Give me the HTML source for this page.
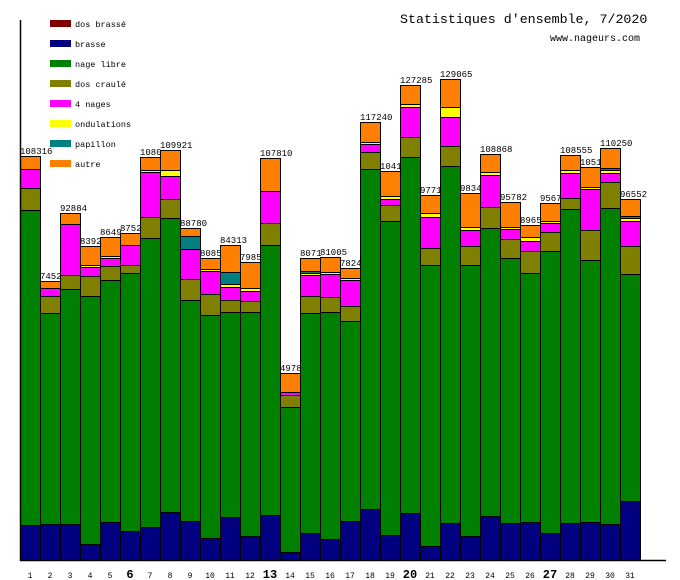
<!DOCTYPE html>
<html><head><meta charset="utf-8"><style>
html,body{margin:0;padding:0;background:#fff;}
svg{display:block;}
text{font-family:"Liberation Mono",monospace;fill:#000;}
</style></head><body>
<svg id="s" width="680" height="580" xmlns="http://www.w3.org/2000/svg">
<text x="400" y="23" font-size="13.3">Statistiques d'ensemble, 7/2020</text>
<text x="550" y="41" font-size="10">www.nageurs.com</text>
</svg>
<script>
var N="#000080",G="#008000",O="#808000",M="#ff00ff",Y="#ffff00",T="#008080",R="#ff8000";
// each bar: [label, [y_top, color]...] segments top-down, last segment ends at 560
var bars=[
["108316",[[156,R],[169,M],[188,O],[210,G],[525,N]]],
["7452",[[281,R],[288,M],[296,O],[313,G],[524,N]]],
["92884",[[213,R],[224,M],[275,O],[289,G],[524,N]]],
["8392",[[246,R],[265,Y],[267,M],[276,O],[296,G],[544,N]]],
["8649",[[237,R],[256,Y],[258,M],[266,O],[280,G],[522,N]]],
["8752",[[233,R],[245,M],[265,O],[273,G],[531,N]]],
["1080",[[157,R],[170,Y],[172,M],[217,O],[238,G],[527,N]]],
["109921",[[150,R],[170,Y],[176,M],[199,O],[218,G],[512,N]]],
["88780",[[228,R],[236,T],[249,M],[279,O],[300,G],[521,N]]],
["8085",[[258,R],[269,Y],[271,M],[294,O],[315,G],[538,N]]],
["84313",[[245,R],[272,T],[284,Y],[287,M],[300,O],[312,G],[517,N]]],
["7985",[[262,R],[288,Y],[291,M],[301,O],[312,G],[536,N]]],
["107810",[[158,R],[191,M],[223,O],[245,G],[515,N]]],
["4978",[[373,R],[392,M],[395,O],[407,G],[552,N]]],
["8071",[[258,R],[271,T],[273,Y],[275,M],[296,O],[313,G],[533,N]]],
["81005",[[257,R],[272,Y],[274,M],[297,O],[312,G],[539,N]]],
["7824",[[268,R],[278,Y],[280,M],[306,O],[321,G],[521,N]]],
["117240",[[122,R],[142,Y],[144,M],[152,O],[169,G],[509,N]]],
["1041",[[171,R],[196,Y],[199,M],[205,O],[221,G],[535,N]]],
["127285",[[85,R],[104,Y],[107,M],[137,O],[157,G],[513,N]]],
["9771",[[195,R],[213,Y],[217,M],[248,O],[265,G],[546,N]]],
["129065",[[79,R],[107,Y],[117,M],[146,O],[166,G],[523,N]]],
["9834",[[193,R],[227,Y],[230,M],[246,O],[265,G],[536,N]]],
["108868",[[154,R],[172,Y],[175,M],[207,O],[228,G],[516,N]]],
["95782",[[202,R],[227,Y],[229,M],[239,O],[258,G],[523,N]]],
["8965",[[225,R],[237,Y],[241,M],[251,O],[273,G],[522,N]]],
["9567",[[203,R],[221,Y],[223,M],[232,O],[251,G],[533,N]]],
["108555",[[155,R],[170,Y],[173,M],[198,O],[209,G],[523,N]]],
["1051",[[167,R],[187,Y],[189,M],[230,O],[260,G],[522,N]]],
["110250",[[148,R],[168,T],[170,Y],[173,M],[182,O],[208,G],[524,N]]],
["96552",[[199,R],[216,T],[218,Y],[221,M],[246,O],[274,G],[501,N]]]
];
var s=document.getElementById("s"),h="";
bars.forEach(function(b,i){
 var x=20+i*20,segs=b[1];
 for(var j=0;j<segs.length;j++){
  var y0=segs[j][0],y1=(j+1<segs.length?segs[j+1][0]:560);
  h+='<rect x="'+(x+0.5)+'" y="'+(y0+0.5)+'" width="20" height="'+(y1-y0)+'" fill="'+segs[j][1]+'" stroke="#000" stroke-width="1"/>';
 }
 h+='<text x="'+x+'" y="'+(segs[0][0]-2)+'" font-size="9">'+b[0]+'</text>';
 var big=[6,13,20,27].indexOf(i+1)>=0;
 h+='<text x="'+(x+10)+'" y="578" text-anchor="middle" font-size="'+(big?12:8)+'"'+(big?' font-weight="bold"':'')+'>'+(i+1)+'</text>';
});
h+='<line x1="20.5" y1="20" x2="20.5" y2="561" stroke="#000" stroke-width="1.5"/>';
h+='<line x1="20" y1="560.5" x2="666" y2="560.5" stroke="#000" stroke-width="1.5"/>';
var leg=[["dos brassé","#800000"],["brasse",N],["nage libre",G],["dos craulé",O],["4 nages",M],["ondulations",Y],["papillon",T],["autre",R]];
leg.forEach(function(l,i){
 var y=20+i*20;
 h+='<rect x="50" y="'+y+'" width="21" height="7" fill="'+l[1]+'"/>';
 h+='<text x="75" y="'+(y+7)+'" font-size="8.5">'+l[0]+'</text>';
});
s.insertAdjacentHTML("beforeend",h);
</script>
</body></html>
